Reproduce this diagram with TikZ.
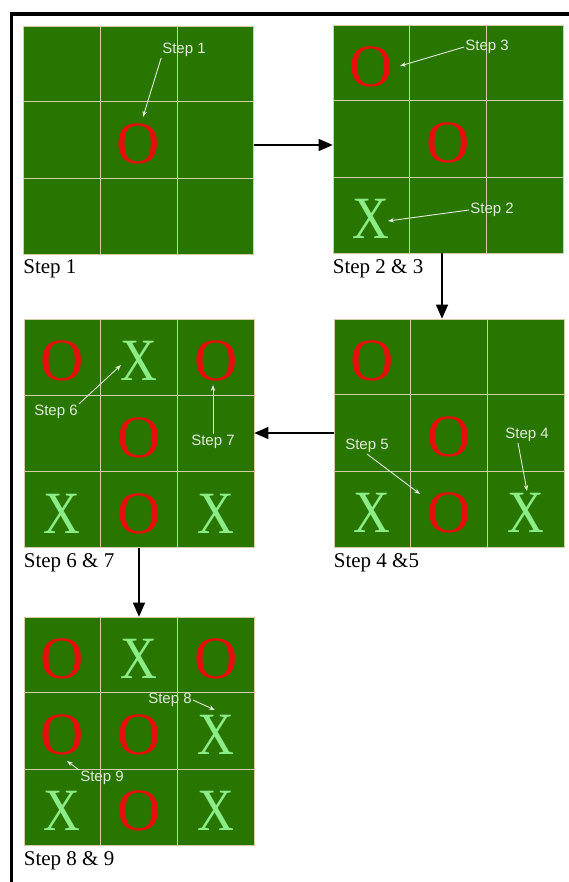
\documentclass[tikz,border=0pt]{standalone}
\usepackage{fontspec}
\setmainfont{Liberation Serif}
\newfontfamily\notefont{Liberation Sans}
\usetikzlibrary{arrows.meta,positioning}

\definecolor{boardgreen}{RGB}{40,118,0}
\definecolor{gridtan}{RGB}{212,206,166}
\definecolor{chalk}{RGB}{226,236,218}
\definecolor{ored}{RGB}{232,14,14}
\definecolor{xgreen}{RGB}{140,236,135}

\tikzset{
  board/.style={draw=gridtan, line width=0.6pt, fill=boardgreen,
    minimum width=230pt, minimum height=228pt, inner sep=0pt},
  gridline/.style={draw=gridtan, line width=1pt},
  caption/.style={inner sep=0pt, font=\fontsize{21}{21}\selectfont},
  note/.style={text=chalk, inner sep=1pt, font=\notefont\fontsize{15}{15}\selectfont},
  pointer/.style={draw=chalk, line width=0.9pt, -{Stealth[length=6pt,width=4.5pt]}},
  flow/.style={line width=1.3pt, -{Triangle[length=14pt,width=12pt]}},
  frame/.style={line width=3.5pt},
  glyph/.style={inner sep=0pt, font=\fontsize{60}{60}\selectfont},
  Opiece/.style={glyph, text=ored},
  Xpiece/.style={glyph, text=xgreen, xscale=0.85},
}

% grid lines and pieces of one board
\newcommand\fillboard[2]{%
  \begin{scope}[shift={(#1.center)}]
    \foreach \c in {-1,1} {
      \draw[gridline] (\c*38.5,-114) -- (\c*38.5,114);
      \draw[gridline] (-115,\c*38.3) -- (115,\c*38.3);
    }
    \foreach \col/\row/\kind in {#2} {
      \node[\kind piece] (#1-\col\row) at (\col*76.7-76.7,\row*76.3-76.3+4) {\kind};
    }
  \end{scope}}

\begin{document}
\begin{tikzpicture}[x=1pt,y=-1pt]
\useasboundingbox (0,0) rectangle (569,882);
\fill[white] (0,0) rectangle (569,882);
\draw[frame] (569,14) -- (11.5,14) -- (11.5,882);

% boards
\node[board] (b1) at (138.5,140) {};
\node[board] (b2) at (448,139) {};
\node[board] (b4) at (449,433) {};
\node[board] (b3) at (139,433.5) {};
\node[board] (b5) at (139,731) {};

\fillboard{b1}{1/1/O}
\fillboard{b2}{0/0/O, 1/1/O, 0/2/X}
\fillboard{b4}{0/0/O, 1/1/O, 0/2/X, 1/2/O, 2/2/X}
\fillboard{b3}{0/0/O, 1/0/X, 2/0/O, 1/1/O, 0/2/X, 1/2/O, 2/2/X}
\fillboard{b5}{0/0/O, 1/0/X, 2/0/O, 0/1/O, 1/1/O, 2/1/X, 0/2/X, 1/2/O, 2/2/X}

% captions
\node[caption, below right=5pt and 0pt of b1.south west] (c1) {Step 1};
\node[caption, below right=6pt and 0pt of b2.south west] (c2) {Step 2 \& 3};
\node[caption, below right=6pt and 0pt of b4.south west] (c4) {Step 4 \&5};
\node[caption, below right=6pt and 0pt of b3.south west] (c3) {Step 6 \& 7};
\node[caption, below right=6pt and 0pt of b5.south west] (c5) {Step 8 \& 9};

% flow between boards
\draw[flow] ([yshift=-5pt]b1.east) -- ([yshift=-5pt]b1.east -| b2.west);
\draw[flow] ([xshift=-6pt]b2.south) -- ([xshift=-6pt]b2.south |- b4.north);
\draw[flow] (b4.west) -- (b4.west -| b3.east);
\draw[flow] (b3.south) -- (b3.south |- b5.north);

% move notes
\node[note] (n1) at (184,50) {Step 1};
\node[note] (n3) at (487,47) {Step 3};
\node[note] (n2) at (492,210) {Step 2};
\node[note] (n5) at (367,446) {Step 5};
\node[note] (n4) at (527,435) {Step 4};
\node[note] (n6) at (56,412) {Step 6};
\node[note] (n7) at (213,442) {Step 7};
\node[note] (n8) at (170,700) {Step 8};
\node[note] (n9) at (102,778) {Step 9};

\coordinate (t1) at (143,117);
\coordinate (t3) at (400,66);
\coordinate (t2) at (388,221);
\coordinate (t5) at (420,494);
\coordinate (t4) at (527,491);
\coordinate (t6) at (121,365);
\coordinate (t7) at (213,385);
\coordinate (t8) at (215,710);
\coordinate (t9) at (67,761);

\draw[pointer] (n1.south west) -- (t1);
\draw[pointer] (n3.west) -- (t3);
\draw[pointer] (n2.west) -- (t2);
\draw[pointer] (n5.south) -- (t5);
\draw[pointer] ([xshift=-9pt]n4.south) -- (t4);
\draw[pointer] (n6.north east) -- (t6);
\draw[pointer] (n7.north) -- (t7);
\draw[pointer] (n8.east) -- (t8);
\draw[pointer] (n9.north west) -- (t9);
\end{tikzpicture}
\end{document}
